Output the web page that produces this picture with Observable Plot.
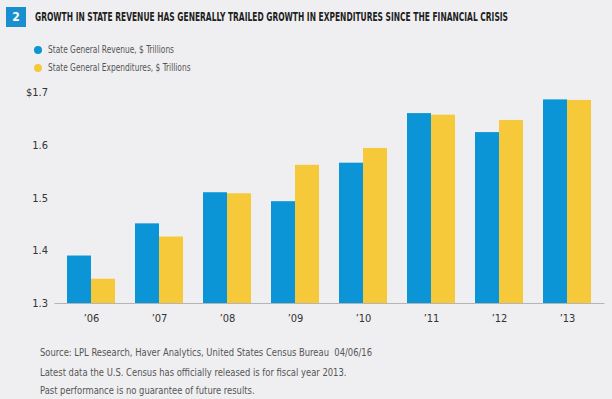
<!DOCTYPE html>
<html>
<head>
<meta charset="utf-8">
<script src="https://cdn.jsdelivr.net/npm/d3@7"></script>
<script src="https://cdn.jsdelivr.net/npm/@observablehq/plot@0.6"></script>
<style>
  html, body { margin: 0; padding: 0; background: #efeff1; width: 612px; height: 399px; overflow: hidden; }
  body { position: relative; font-family: "Liberation Sans Narrow", "DejaVu Sans Condensed", sans-serif; }
  .box { position: absolute; left: 6px; top: 7px; width: 20px; height: 20px; background: #1a8fd0; color: #fff; font-weight: bold; font-size: 12px; text-align: center; line-height: 20px; }
  .title { position: absolute; left: 35px; top: 10px; font-weight: bold; font-size: 12px; color: #1e1e1e; white-space: nowrap; line-height: 14px; transform-origin: 0 50%; }
  .legend { position: absolute; left: 34px; font-size: 11px; color: #555; white-space: nowrap; line-height: 12px; }
  .legend span.dot { position: absolute; left: 0; top: 2px; width: 8px; height: 8px; border-radius: 50%; }
  .legend span.txt { position: absolute; left: 14px; top: 0; transform-origin: 0 50%; }
  .note { position: absolute; left: 40px; font-size: 11px; color: #555; white-space: nowrap; line-height: 12px; transform-origin: 0 50%; }
  #chart { position: absolute; left: 0; top: 80px; }
</style>
</head>
<body>
<div class="box">2</div>
<div class="title" id="title"></div>
<div class="legend" id="leg0" style="top:44px"></div>
<div class="legend" id="leg1" style="top:62px"></div>
<div class="note" id="n0" style="top:347px"></div>
<div class="note" id="n1" style="top:367px"></div>
<div class="note" id="n2" style="top:385px"></div>
<div id="chart"></div>
<script>
const titleText = "GROWTH IN STATE REVENUE HAS GENERALLY TRAILED GROWTH IN EXPENDITURES SINCE THE FINANCIAL CRISIS";
const years = ["\u201906", "\u201907", "\u201908", "\u201909", "\u201910", "\u201911", "\u201912", "\u201913"];
const seriesNames = ["State General Revenue, $ Trillions", "State General Expenditures, $ Trillions"];
const revenue = [1.390, 1.451, 1.510, 1.493, 1.566, 1.660, 1.624, 1.686];
const expenditures = [1.346, 1.426, 1.508, 1.562, 1.594, 1.657, 1.647, 1.685];
const yTicks = [1.3, 1.4, 1.5, 1.6, 1.7];
const notes = [
  "Source: LPL Research, Haver Analytics, United States Census Bureau\u00a0\u00a004/06/16",
  "Latest data the U.S. Census has officially released is for fiscal year 2013.",
  "Past performance is no guarantee of future results."
];
const colors = ["#0b95d6", "#f6c93a"];

// condense text horizontally to the width it takes in the reference
function squeeze(el, factor) {
  el.style.transform = `scaleX(${factor})`;
}

const titleEl = document.getElementById("title");
titleEl.textContent = titleText;
squeeze(titleEl, 473 / titleEl.getBoundingClientRect().width);

let legScale;
seriesNames.forEach((s, i) => {
  const el = document.getElementById("leg" + i);
  el.innerHTML = `<span class="dot" style="background:${colors[i]}"></span><span class="txt"></span>`;
  const t = el.querySelector(".txt");
  t.textContent = s;
  if (i === 0) legScale = 126 / t.getBoundingClientRect().width;
  squeeze(t, legScale);
});
let noteScale;
notes.forEach((t, i) => {
  const el = document.getElementById("n" + i);
  el.textContent = t;
  if (i === 0) noteScale = 332 / el.getBoundingClientRect().width;
  squeeze(el, noteScale);
});

const revData = years.map((y, i) => ({year: y, value: revenue[i]}));
const expData = years.map((y, i) => ({year: y, value: expenditures[i]}));

function make(half) {
  return Plot.plot({
    width: 612,
    height: 250,
    marginTop: 12,
    marginBottom: 27,
    marginLeft: 54.5,
    marginRight: 7.5,
    style: {background: "transparent", fontFamily: "'Liberation Sans Narrow', 'DejaVu Sans Condensed', sans-serif", fontSize: "11px", color: "#333"},
    x: {domain: years, paddingInner: 0.287, paddingOuter: 0.143, tickSize: 0, tickPadding: 11, label: null},
    y: {domain: [1.3, 1.7], ticks: yTicks, tickSize: 0, tickPadding: 7, label: null,
        tickFormat: d => (d === 1.7 ? "$" : "") + d.toFixed(1)},
    marks: [
      Plot.barY(revData, {x: "year", y1: 1.3, y2: "value", fill: colors[0], insetRight: half}),
      Plot.barY(expData, {x: "year", y1: 1.3, y2: "value", fill: colors[1], insetLeft: half}),
      Plot.ruleY([1.3], {stroke: "#b5b5b5", strokeWidth: 1})
    ]
  });
}
let p = make(0);
const bw = p.scale("x").bandwidth;
p = make(bw / 2);
document.getElementById("chart").appendChild(p);
</script>
</body>
</html>
